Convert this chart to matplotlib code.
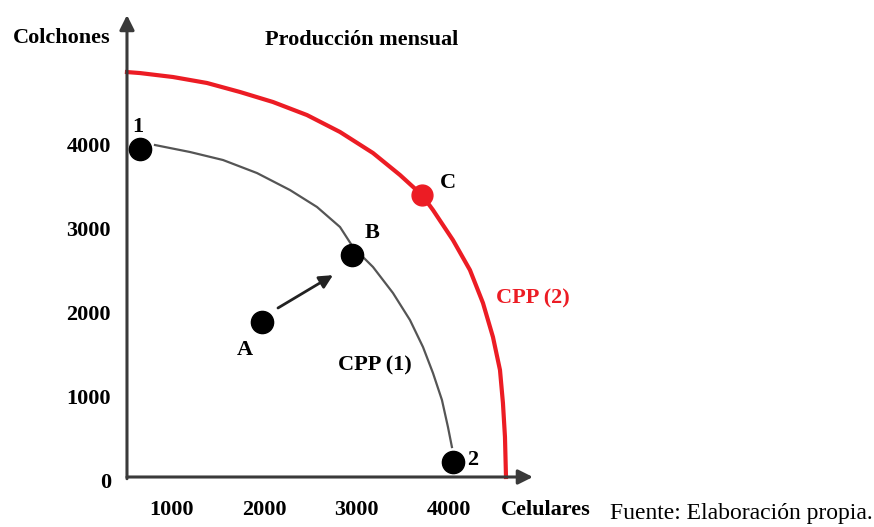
import matplotlib.pyplot as plt

plt.rcParams['font.family'] = ['Liberation Serif', 'DejaVu Serif']

# axis tick labels (Celulares / Colchones)
x_ticks = [1000, 2000, 3000, 4000]
y_ticks = [0, 1000, 2000, 3000, 4000]

# CPP (1) curve
cpp1_x = [817, 1196, 1553, 1921, 2278, 2570, 2819, 2959, 3176, 3392, 3576, 3717, 3825, 3922, 3987, 4030]
cpp1_y = [4051, 3968, 3873, 3718, 3516, 3315, 3077, 2839, 2602, 2293, 1972, 1651, 1342, 1022, 701, 463]

# CPP (2) curve
cpp2_x = [514, 655, 1012, 1380, 1737, 2094, 2462, 2819, 3176, 3468, 3706, 3825, 4041, 4225, 4366, 4474, 4550, 4582, 4604, 4615]
cpp2_y = [4918, 4906, 4859, 4788, 4681, 4562, 4407, 4206, 3956, 3695, 3457, 3279, 2922, 2566, 2174, 1770, 1378, 986, 582, 107]

# labelled points
pt_x = [655, 1975, 2949, 4041]
pt_y = [4004, 1948, 2744, 285]
c_x, c_y = 3706, 3457

# where the drawn axes cross
x0, y0 = 514, 107

fig = plt.figure(figsize=(8.74, 5.27), dpi=100)
ax = fig.add_axes([0, 0, 1, 1])
ax.set_xlim(-860, 8597)
ax.set_ylim(-487, 5774)
ax.axis('off')

red = '#ec1c24'

# axes with arrow heads
ax.annotate('', xy=(x0, 5595), xytext=(x0, y0 - 20),
            arrowprops=dict(arrowstyle='-|>', color='#3a3a3a', lw=2.2,
                            mutation_scale=22, shrinkA=0, shrinkB=0))
ax.annotate('', xy=(4906, y0), xytext=(x0, y0),
            arrowprops=dict(arrowstyle='-|>', color='#3a3a3a', lw=2.2,
                            mutation_scale=22, shrinkA=0, shrinkB=0))

# tick labels
for v in x_ticks:
    ax.text(v, -285, str(v), ha='center', va='center', fontsize=16, fontweight='bold')
for v in y_ticks:
    ax.text(340, v + 30, str(v), ha='right', va='center', fontsize=16, fontweight='bold')

# curves
ax.plot(cpp1_x, cpp1_y, color='#555555', lw=1.6, solid_joinstyle='round', zorder=2)
ax.plot(cpp2_x, cpp2_y, color=red, lw=3, solid_joinstyle='round', zorder=2)

# points
ax.plot(pt_x, pt_y, 'o', color='black', ms=16, zorder=3)
ax.plot(c_x, c_y, 'o', color=red, ms=15, zorder=3)

# arrow from A to B
ax.annotate('', xy=(2743, 2505), xytext=(2148, 2115),
            arrowprops=dict(arrowstyle='-|>', color='#222222', lw=2,
                            mutation_scale=20, shrinkA=0, shrinkB=0))

# point labels
bold = dict(fontsize=16, fontweight='bold', ha='center', va='center')
ax.text(633, 4264, '1', **bold)
ax.text(1790, 1616, 'A', **bold)
ax.text(3165, 3006, 'B', **bold)
ax.text(3987, 3600, 'C', **bold)
ax.text(4258, 309, '2', **bold)
ax.text(3197, 1426, 'CPP (1)', **bold)
ax.text(4906, 2233, 'CPP (2)', color=red, **bold)

# axis titles
ax.text(-189, 5322, 'Colchones', **bold)
ax.text(5048, -285, 'Celulares', **bold)
ax.text(3057, 5298, 'Producción mensual', **bold)

fig.text(610 / 874, 1 - 513 / 527, 'Fuente: Elaboración propia.', fontsize=17,
         ha='left', va='center')

fig.savefig('out.png', dpi=100)
